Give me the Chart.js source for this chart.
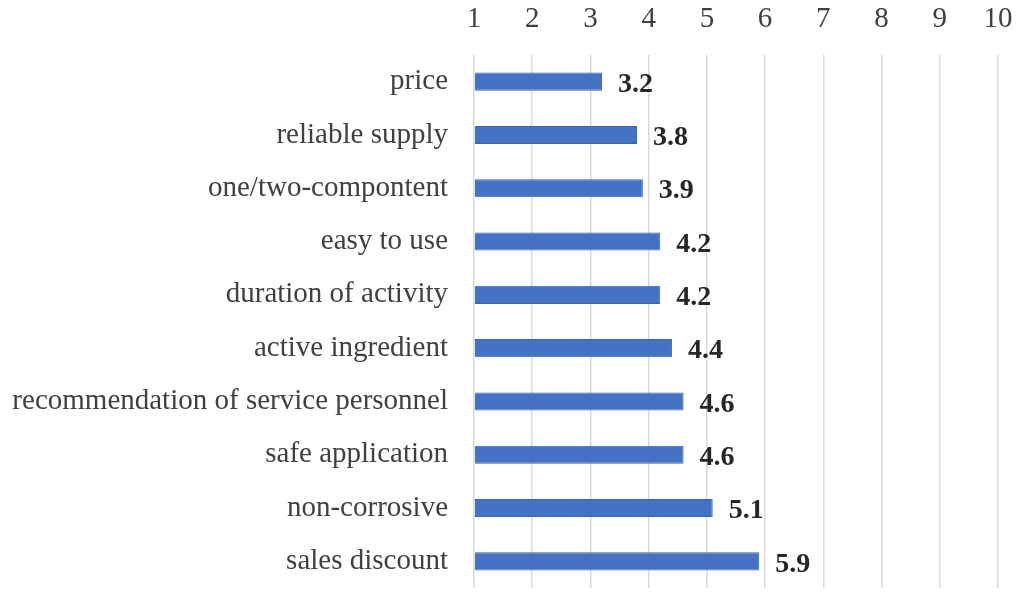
<!DOCTYPE html>
<html>
<head>
<meta charset="utf-8">
<script src="https://cdn.jsdelivr.net/npm/chart.js@4.4.1/dist/chart.umd.min.js"></script>
<style>
  html, body { margin: 0; padding: 0; background: #fff; }
  #wrap { width: 1021px; height: 602px; }
</style>
</head>
<body>
<div id="wrap"><canvas id="chart"></canvas></div>
<script>
// data
const categories = [
  'price',
  'reliable supply',
  'one/two-compontent',
  'easy to use',
  'duration of activity',
  'active ingredient',
  'recommendation of service personnel',
  'safe application',
  'non-corrosive',
  'sales discount'
];
const scores = [3.2, 3.8, 3.9, 4.2, 4.2, 4.4, 4.6, 4.6, 5.1, 5.9];
const scaleMin = 1;
const scaleMax = 10;

const serif = '"Liberation Serif", "Times New Roman", serif';

// writes the bold value just past the end of each bar
const valueLabels = {
  id: 'valueLabels',
  afterDatasetsDraw(chart) {
    const ctx = chart.ctx;
    const meta = chart.getDatasetMeta(0);
    ctx.save();
    ctx.font = 'bold 28px ' + serif;
    ctx.fillStyle = '#262626';
    ctx.textAlign = 'left';
    ctx.textBaseline = 'middle';
    meta.data.forEach((bar, i) => {
      ctx.fillText(scores[i].toFixed(1), bar.x + 16, bar.y + 3);
    });
    ctx.restore();
  }
};

const ctx = document.getElementById('chart').getContext('2d');
new Chart(ctx, {
  type: 'bar',
  data: {
    labels: categories,
    datasets: [{
      data: scores,
      base: scaleMin,
      backgroundColor: '#4472C4',
      borderColor: '#3a64b0',
      borderWidth: 1,
      categoryPercentage: 1,
      barPercentage: 0.34
    }]
  },
  options: {
    indexAxis: 'y',
    responsive: true,
    maintainAspectRatio: false,
    animation: false,
    layout: { padding: { left: 0, right: 23, top: 0, bottom: 14 } },
    plugins: {
      legend: { display: false },
      tooltip: { enabled: false }
    },
    scales: {
      x: {
        position: 'top',
        min: scaleMin,
        max: scaleMax,
        afterFit: (axis) => {
          axis.height = 55;
          axis.paddingLeft = 0;
          axis.paddingRight = 0;
        },
        ticks: {
          stepSize: 1,
          padding: 18,
          color: '#404040',
          font: { family: serif, size: 29 }
        },
        grid: { color: '#d9d9d9', lineWidth: 1.5, drawTicks: false },
        border: { display: false }
      },
      y: {
        afterFit: (axis) => {
          axis.width = 474;
          axis.paddingTop = 0;
          axis.paddingBottom = 0;
        },
        ticks: {
          padding: 18,
          color: '#404040',
          font: { family: serif, size: 29 }
        },
        grid: { display: false },
        border: { display: false }
      }
    }
  },
  plugins: [valueLabels]
});
</script>
</body>
</html>
